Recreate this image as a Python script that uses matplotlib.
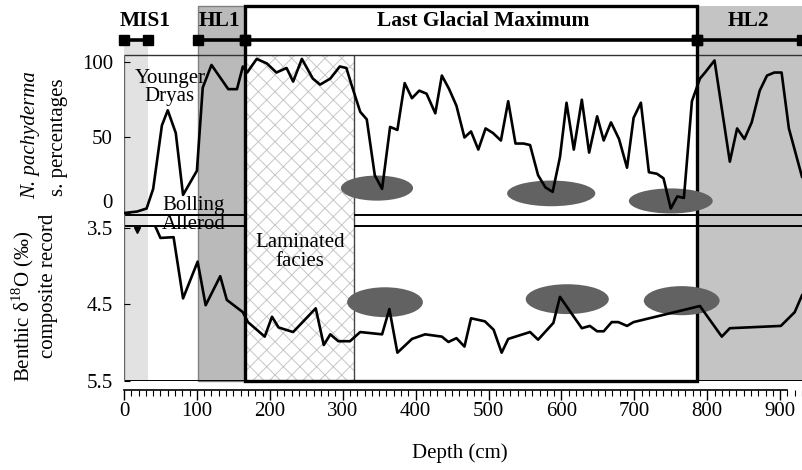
import numpy as np
import matplotlib
matplotlib.use('Agg')
import matplotlib.pyplot as plt
from matplotlib.patches import Rectangle, Ellipse
from matplotlib.ticker import MultipleLocator

plt.rcParams['font.family'] = 'Liberation Serif'
plt.rcParams['mathtext.fontset'] = 'custom'
plt.rcParams['mathtext.rm'] = 'Liberation Serif'
plt.rcParams['hatch.linewidth'] = 0.7

# N. pachyderma s. (%) vs depth (cm)
top_depth = [0, 18, 31, 40, 52, 60, 71, 81, 100, 108, 120, 143, 155, 163, 169, 182,
             196, 209, 223, 232, 244, 259, 269, 283, 296, 305, 312, 324, 333, 344,
             354, 365, 375, 385, 395, 405, 415, 427, 436, 446, 456, 467, 476, 486,
             496, 506, 517, 527, 537, 548, 557, 568, 578, 588, 598, 607, 617, 628,
             638, 649, 658, 668, 679, 690, 699, 709, 720, 731, 740, 750, 759, 768,
             779, 790, 797, 810, 831, 841, 851, 861, 872, 882, 892, 902, 912, 930]
top_pct = [0, 1, 3, 16, 58, 68, 53, 12, 28, 83, 98, 82, 82, 97, 93, 102,
           99, 93, 96, 87, 102, 89, 85, 89, 97, 96, 85, 67, 62, 25,
           16, 57, 55, 86, 76, 81, 79, 66, 91, 82, 71, 50, 54, 42,
           56, 53, 48, 74, 46, 46, 45, 25, 17, 14, 37, 73, 42, 75,
           40, 64, 48, 60, 49, 30, 63, 73, 27, 26, 23, 3, 11, 10,
           74, 89, 93, 101, 34, 56, 49, 60, 81, 91, 93, 93, 56, 24]

# benthic d18O composite record
bot_depth = [43, 50, 68, 81, 101, 112, 132, 141, 163, 170, 193, 203, 212, 232, 254,
             263, 274, 283, 294, 310, 324, 354, 364, 375, 395, 413, 436, 445, 456,
             467, 476, 495, 507, 518, 527, 557, 568, 589, 598, 628, 639, 649, 658,
             669, 678, 690, 699, 790, 820, 831, 901, 920, 930]
bot_d18o = [3.48, 3.63, 3.62, 4.42, 3.94, 4.51, 4.13, 4.44, 4.60, 4.73, 4.92, 4.66,
            4.80, 4.86, 4.64, 4.55, 5.03, 4.89, 4.98, 4.98, 4.86, 4.89, 4.56, 5.13,
            4.95, 4.89, 4.92, 4.99, 4.94, 5.05, 4.68, 4.72, 4.83, 5.13, 4.95, 4.86,
            4.96, 4.74, 4.40, 4.81, 4.78, 4.85, 4.85, 4.73, 4.73, 4.78, 4.73, 4.52,
            4.92, 4.81, 4.78, 4.60, 4.38]
marker_depth, marker_val = 18, 3.52

# zones (depth cm)
mis1 = (0, 33)
hl1 = (101.5, 166)
lgm = (166, 786)
hl2 = (786, 930)
laminated = (166, 315)

# grey ellipses (centre depth, centre value, width cm, height)
top_ell = [(347, 16.5, 99, 16.6), (586, 13, 121, 17), (750, 8, 115, 16.6)]
bot_ell = [(358, 4.47, 104, 0.39), (608, 4.43, 114, 0.39), (765, 4.45, 104, 0.38)]

XMAX = 930
W, H = 802, 470
fig = plt.figure(figsize=(W / 100, H / 100), dpi=100)

left = 124 / W
width = (802 - 124) / W

def fy(py):
    return 1 - py / H

# background axes for zones / header (y in fraction of 5..381 px)
bg = fig.add_axes([left, fy(381), width, fy(5) - fy(381)])
bg.set_xlim(0, XMAX)
bg.set_ylim(0, 1)
bg.axis('off')

def by(py):
    return (381 - py) / 376

y_bar = by(40)
y_head = by(6)
y_ptop = by(55)
bg.add_patch(Rectangle((mis1[0], 0), mis1[1] - mis1[0], y_bar, fc='#e2e2e2', ec='none', zorder=1))
bg.add_patch(Rectangle((hl1[0], 0), hl1[1] - hl1[0], y_head, fc='#bababa', ec='#808080', lw=1, zorder=1, clip_on=False))
bg.add_patch(Rectangle((hl2[0], 0), hl2[1] - hl2[0], y_head, fc='#c4c4c4', ec='none', zorder=1, clip_on=False))
bg.add_patch(Rectangle((laminated[0], 0), laminated[1] - laminated[0], y_ptop, fc='white',
                       ec='#c6c6c6', lw=0, hatch='xx', zorder=1))
bg.vlines(laminated[1], 0, y_ptop, color='#444444', lw=1, zorder=2)

# panel frame lines
bg.hlines(y_ptop, 0, XMAX, color='#333333', lw=1, zorder=2)
for yy in (by(215), by(226)):
    bg.hlines(yy, 0, laminated[0], color='black', lw=1.4, zorder=2)
    bg.hlines(yy, laminated[1], XMAX, color='black', lw=1.4, zorder=2)
bg.hlines(0, 0, XMAX, color='black', lw=1.4, zorder=2)
bg.vlines(0, 0, y_ptop, color='#666666', lw=1, zorder=2)

# LGM box
bg.add_patch(Rectangle((lgm[0], 0), lgm[1] - lgm[0], y_head, fc='none', ec='black', lw=2.4,
                       zorder=3, clip_on=False))

# header bars
for a, b in (mis1, hl1, lgm, hl2):
    bg.plot([a, b], [y_bar, y_bar], '-s', color='black', lw=2.6, ms=7, zorder=4, clip_on=False)

y_txt = by(21)
bg.text(29, y_txt, 'MIS1', ha='center', va='center', fontsize=15.5, fontweight='bold')
bg.text(131, y_txt, 'HL1', ha='center', va='center', fontsize=15.5, fontweight='bold')
bg.text(493, y_txt, 'Last Glacial Maximum', ha='center', va='center', fontsize=15.5, fontweight='bold')
bg.text(857, y_txt, 'HL2', ha='center', va='center', fontsize=15.5, fontweight='bold')

bg.text(96, by(215), 'Bolling\nAllerod', ha='center', va='center', fontsize=15, linespacing=0.95, zorder=5)
bg.text(241, by(252), 'Laminated\nfacies', ha='center', va='center', fontsize=15, linespacing=1.0, zorder=5)

# top panel
ax1 = fig.add_axes([left, fy(215), width, fy(55) - fy(215)])
ax1.set_facecolor('none')
ax1.set_xlim(0, XMAX)
ax1.set_ylim(-1.3, 104.6)
for (cx, cy, ew, eh) in top_ell:
    ax1.add_patch(Ellipse((cx, cy), ew, eh, fc='#626262', ec='none', zorder=1))
ax1.plot(top_depth, top_pct, color='black', lw=1.9, zorder=3)
ax1.text(63, 83, 'Younger\nDryas', ha='center', va='center', fontsize=15, linespacing=0.95)
ax1.set_yticks([0, 50, 100])
ax1.set_xticks([])
for s in ax1.spines.values():
    s.set_visible(False)
ax1.tick_params(axis='y', direction='in', length=4, pad=8, labelsize=15)
ax1.get_yticklabels()[0].set_va('bottom')

# bottom panel
ax2 = fig.add_axes([left, fy(381), width, fy(226) - fy(381)])
ax2.set_facecolor('none')
ax2.set_xlim(0, XMAX)
ax2.set_ylim(5.5, 3.474)
for (cx, cy, ew, eh) in bot_ell:
    ax2.add_patch(Ellipse((cx, cy), ew, eh, fc='#626262', ec='none', zorder=1))
ax2.plot(bot_depth, bot_d18o, color='black', lw=1.9, zorder=3)
ax2.plot([marker_depth], [marker_val], 'v', color='black', ms=4, zorder=3)
ax2.set_yticks([3.5, 4.5, 5.5])
ax2.set_yticklabels(['3.5', '4.5', '5.5'])
ax2.set_xticks([])
for s in ax2.spines.values():
    s.set_visible(False)
ax2.tick_params(axis='y', direction='in', length=4, pad=8, labelsize=15)

# depth axis
axx = fig.add_axes([left, fy(390), width, 0.01])
axx.set_facecolor('none')
axx.set_xlim(0, XMAX)
axx.set_yticks([])
for k in ('top', 'left', 'right'):
    axx.spines[k].set_visible(False)
axx.spines['bottom'].set_bounds(0, 910)
axx.spines['bottom'].set_linewidth(1.2)
axx.set_xticks(np.arange(0, 901, 100))
axx.xaxis.set_minor_locator(MultipleLocator(10))
axx.tick_params(axis='x', which='major', length=7, width=1, labelsize=15, pad=2)
axx.tick_params(axis='x', which='minor', length=4, width=0.8)
fig.text(0.573, fy(453), 'Depth (cm)', ha='center', va='center', fontsize=15)

# y labels
fig.text(31 / W, fy(135), 'N. pachyderma', rotation=90, ha='center', va='center', fontsize=15, style='italic')
fig.text(58 / W, fy(137), 's. percentages', rotation=90, ha='center', va='center', fontsize=15)
fig.text(23 / W, fy(306), r'Benthic δ$^{18}$O (‰)', rotation=90, ha='center', va='center', fontsize=15)
fig.text(48 / W, fy(286), 'composite record', rotation=90, ha='center', va='center', fontsize=15)

fig.savefig('out.png', dpi=100)
